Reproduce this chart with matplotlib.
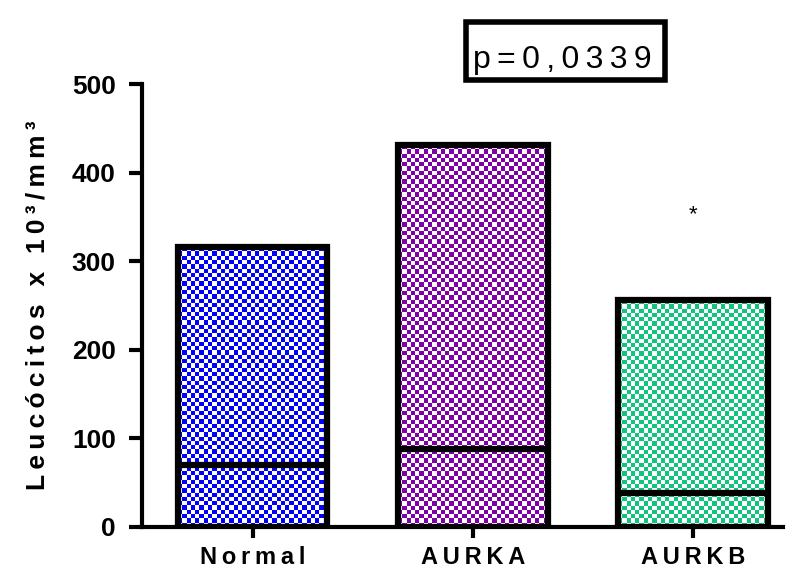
import numpy as np
import matplotlib
matplotlib.use("Agg")
import matplotlib.pyplot as plt
from matplotlib.patches import Rectangle

categories = ["Normal", "AURKA", "AURKB"]
max_values = [316, 431, 256]
median_values = [70, 88, 38]
colors = ["#0000FF", "#8000A8", "#10C47E"]
y_ticks = [0, 100, 200, 300, 400, 500]
annotation_star = ("*", 2, 352)
p_text = "p=0,0339"
y_label = "Leucócitos x 10³/mm³"

plt.rcParams['font.family'] = ['Liberation Sans', 'DejaVu Sans']

THIN = "\u2009"

def spaced(s, sep):
    return sep.join(list(s))

fig = plt.figure(figsize=(8, 5.83), dpi=100)
ax = fig.add_axes([0.1769, 0.0961, 0.8019, 0.7598])

x = np.arange(len(categories))
width = 0.68
cell_px = 4.3
px_per_x = 220.0
px_per_y = 0.886

bars = ax.bar(x, max_values, width=width, fill=False, edgecolor='black',
              linewidth=4.5, zorder=3)

for xi, top, col, bar in zip(x, max_values, colors, bars):
    nx = int(round(width * px_per_x / cell_px))
    ny = int(round(top * px_per_y / cell_px))
    ii, jj = np.meshgrid(np.arange(nx), np.arange(ny))
    chk = ((ii + jj) % 2).astype(float)
    rgb = np.array(matplotlib.colors.to_rgb(col))
    img = np.ones((ny, nx, 3))
    img[chk == 1] = rgb
    im = ax.imshow(img, extent=(xi - width / 2, xi + width / 2, 0, top),
                   aspect='auto', interpolation='nearest', origin='lower', zorder=2)
    im.set_clip_path(bar)

ax.hlines(median_values, x - width / 2, x + width / 2, colors='black',
          linewidth=4.5, zorder=4)

ax.text(annotation_star[1], annotation_star[2], annotation_star[0],
        ha='center', va='center', fontsize=16, zorder=5)

ax.set_xlim(-0.505, 2.41)
ax.set_ylim(0, 500)
ax.set_yticks(y_ticks)
ax.set_yticklabels([str(t) for t in y_ticks], fontsize=19, fontweight='bold')
ax.set_xticks(x)
ax.set_xticklabels([spaced(c, THIN) for c in categories], fontsize=17, fontweight='bold')

for s in ['top', 'right']:
    ax.spines[s].set_visible(False)
for s in ['left', 'bottom']:
    ax.spines[s].set_linewidth(3)
ax.tick_params(axis='y', length=9.5, width=3, pad=9)
ax.tick_params(axis='x', length=8, width=3, pad=6)

ax.set_ylabel(spaced(y_label, THIN), fontsize=19, fontweight='bold')
ax.yaxis.set_label_coords(-0.143, 0.5)

fig.patches.append(Rectangle((465.5 / 800, 1 - 79.5 / 583), 199.5 / 800, 57 / 583,
                             transform=fig.transFigure, facecolor='white',
                             edgecolor='black', linewidth=4, zorder=5))
fig.text(562 / 800, 1 - 68 / 583, spaced(p_text, THIN), ha='center', va='baseline',
         fontsize=23, zorder=6)

fig.savefig("out.png", dpi=100)
